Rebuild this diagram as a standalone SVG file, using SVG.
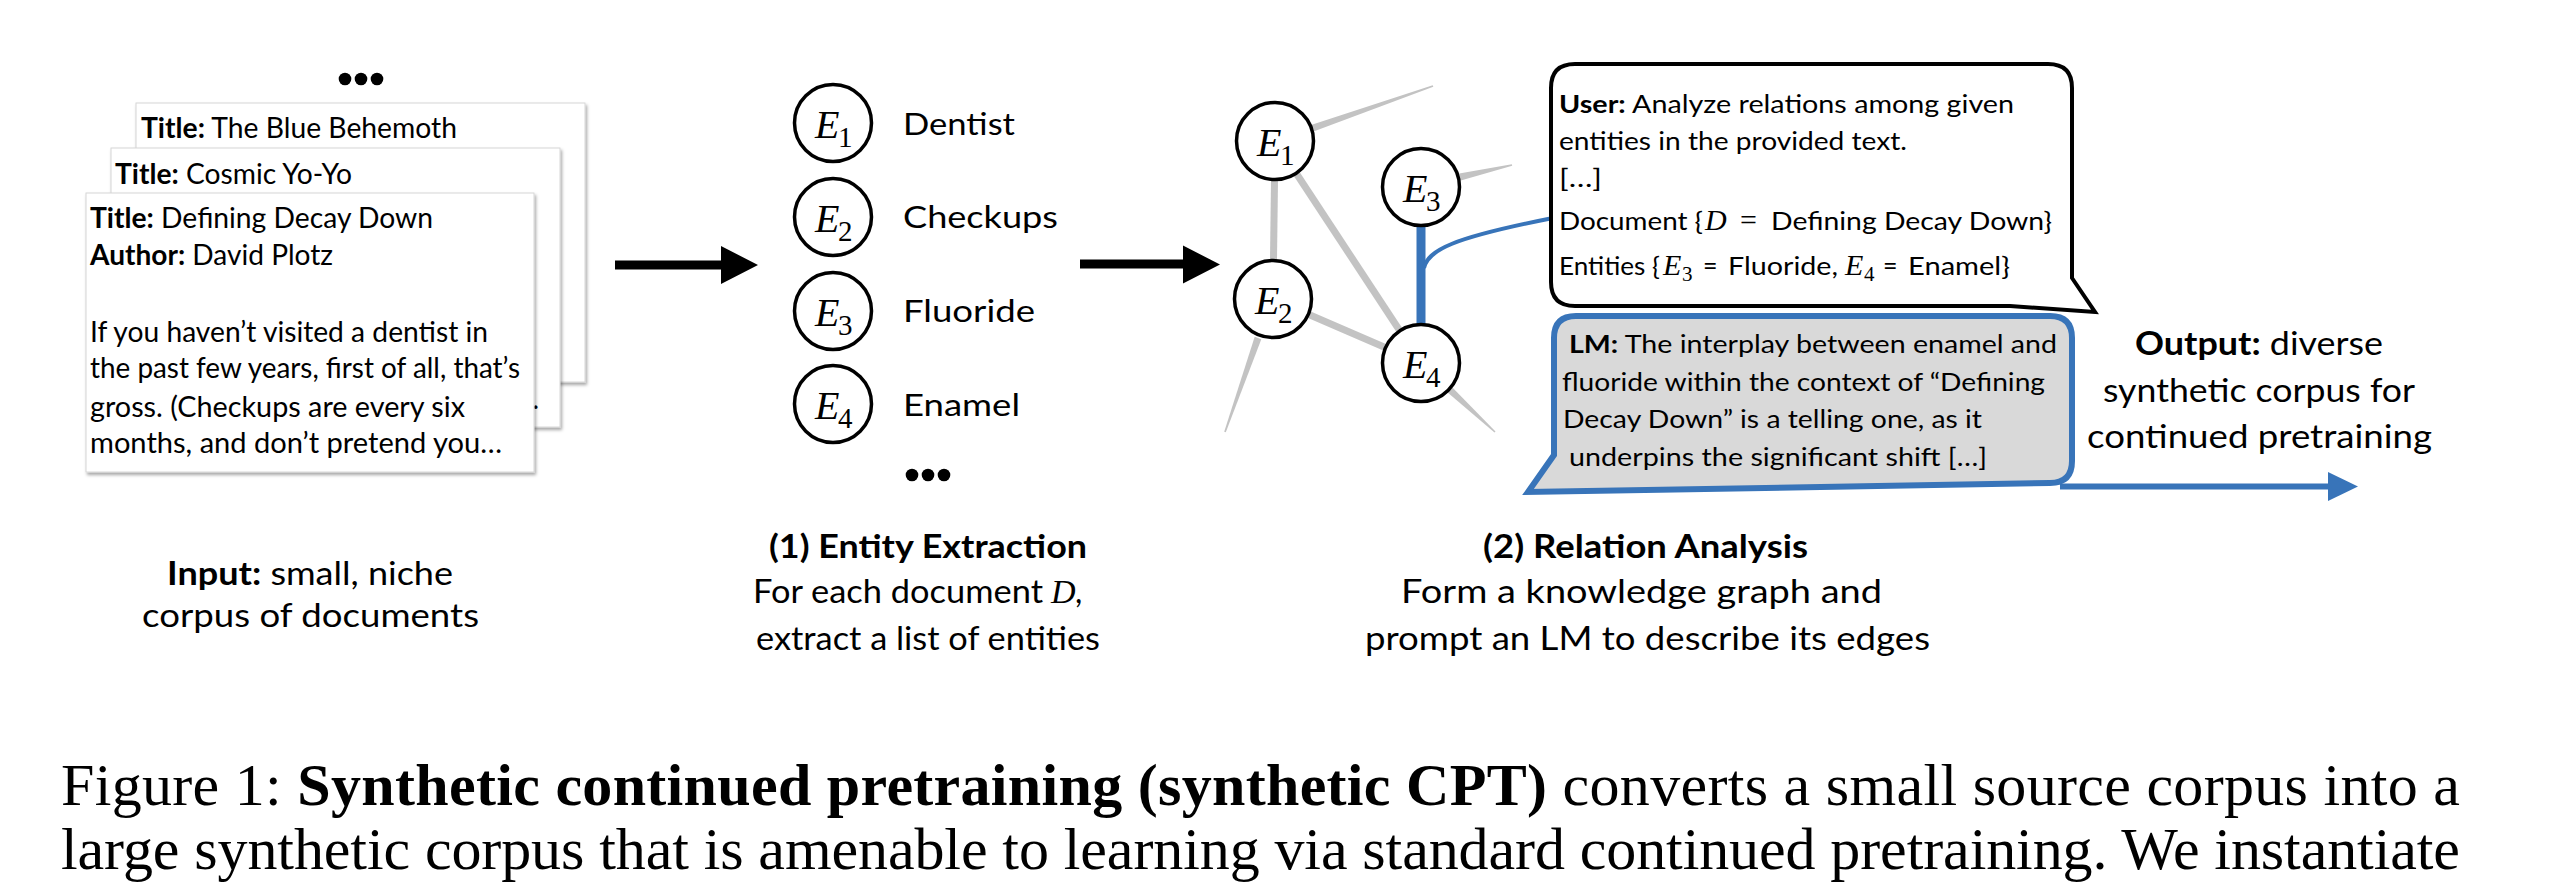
<svg xmlns="http://www.w3.org/2000/svg" width="2572" height="892" viewBox="0 0 2572 892">
<style>
text{font-family:Lato,"Open Sans","Liberation Sans",sans-serif;fill:#000}
.b{font-weight:700}
.m{font-family:"Liberation Serif","Times New Roman",serif;font-style:italic}
.s{font-family:"Liberation Serif","Times New Roman",serif}
.card{fill:#fff;stroke:#d6d6d6;stroke-width:1;filter:url(#sh)}
.node{fill:#fff;stroke:#000;stroke-width:3.5}
.edge{stroke:#c3c3c3;stroke-width:7;fill:none;stroke-linecap:butt}
.taper{fill:#c3c3c3}
.doc{font-size:28px}
.ent{font-size:30px}
.chat{font-size:25px}
.lm{font-size:25px}
.lab{font-size:32px}
.cap{font-family:"Liberation Serif","Times New Roman",serif;font-size:60px}
</style>
<defs>
<filter id="sh" x="-5%" y="-5%" width="115%" height="115%">
<feDropShadow dx="1.5" dy="2.5" stdDeviation="1.5" flood-color="#000" flood-opacity="0.35"/>
</filter>
</defs>

<g id="documents">
<g fill="#000"><circle cx="345" cy="79" r="6.3"/><circle cx="361" cy="79" r="6.3"/><circle cx="377" cy="79" r="6.3"/></g>
<g id="doc-back">
<rect class="card" x="136" y="103" width="449" height="279"/>
<text class="doc" x="141" y="138" textLength="316" lengthAdjust="spacingAndGlyphs"><tspan class="b">Title:</tspan> The Blue Behemoth</text>
</g>
<g id="doc-middle">
<rect class="card" x="111" y="148" width="449" height="279"/>
<text class="doc" x="115" y="184" textLength="237" lengthAdjust="spacingAndGlyphs"><tspan class="b">Title:</tspan> Cosmic Yo-Yo</text>
<text class="doc" x="518" y="409">…</text>
</g>
<g id="doc-front">
<rect class="card" x="86" y="193" width="448" height="279"/>
<text class="doc" x="90" y="228" textLength="343" lengthAdjust="spacingAndGlyphs"><tspan class="b">Title:</tspan> Defining Decay Down</text>
<text class="doc" x="90" y="265" textLength="243" lengthAdjust="spacingAndGlyphs"><tspan class="b">Author:</tspan> David Plotz</text>
<text class="doc" x="90" y="342" textLength="398" lengthAdjust="spacingAndGlyphs">If you haven’t visited a dentist in</text>
<text class="doc" x="90" y="378" textLength="430" lengthAdjust="spacingAndGlyphs">the past few years, first of all, that’s</text>
<text class="doc" x="90" y="417" textLength="375" lengthAdjust="spacingAndGlyphs">gross. (Checkups are every six</text>
<text class="doc" x="90" y="453" textLength="412" lengthAdjust="spacingAndGlyphs">months, and don’t pretend you…</text>
</g>
</g>

<g id="connectors">
<path d="M615,260.5 H721 V246 L758,265 L721,284 V269.5 H615 Z" fill="#000"/>
<path d="M1080,259.5 H1183 V245.5 L1220,264.5 L1183,283.5 V268.5 H1080 Z" fill="#000"/>
<g id="graph-edges">
<line class="edge" x1="1275" y1="141" x2="1273" y2="299"/>
<line class="edge" x1="1275" y1="141" x2="1421" y2="363"/>
<line class="edge" x1="1273" y1="299" x2="1421" y2="363"/>
<polygon class="taper" points="1314.2,131.3 1433.3,86.8 1432.7,85.2 1311.8,124.7"/>
<polygon class="taper" points="1261.3,339.2 1225.8,432.3 1224.2,431.7 1254.7,336.8"/>
<polygon class="taper" points="1460.8,180.4 1512.2,165.8 1511.8,164.2 1459.2,173.6"/>
<polygon class="taper" points="1447.6,392.6 1494.5,432.6 1495.5,431.4 1452.4,387.4"/>
<line x1="1421" y1="187" x2="1421" y2="363" stroke="#3874b9" stroke-width="9"/>
<path d="M1424,268 C1428,250 1452,238 1553,218" fill="none" stroke="#3874b9" stroke-width="4"/>
</g>
<g id="output-arrow">
<line x1="2060" y1="486.5" x2="2332" y2="486.5" stroke="#3874b9" stroke-width="6"/>
<polygon points="2328,472 2358,486.5 2328,501" fill="#3874b9"/>
</g>
</g>

<g id="entity-list">
<g id="list-E1"><circle class="node" cx="833" cy="123" r="38.5"/><text><tspan class="m" x="815" y="138" font-size="40">E</tspan><tspan class="s" x="838" y="147" font-size="29">1</tspan></text><text class="ent" x="903" y="135" textLength="112" lengthAdjust="spacingAndGlyphs">Dentist</text></g>
<g id="list-E2"><circle class="node" cx="833" cy="217" r="38.5"/><text><tspan class="m" x="815" y="232" font-size="40">E</tspan><tspan class="s" x="838" y="241" font-size="29">2</tspan></text><text class="ent" x="903" y="228" textLength="155" lengthAdjust="spacingAndGlyphs">Checkups</text></g>
<g id="list-E3"><circle class="node" cx="833" cy="311" r="38.5"/><text><tspan class="m" x="815" y="326" font-size="40">E</tspan><tspan class="s" x="838" y="335" font-size="29">3</tspan></text><text class="ent" x="903" y="322" textLength="132" lengthAdjust="spacingAndGlyphs">Fluoride</text></g>
<g id="list-E4"><circle class="node" cx="833" cy="404" r="38.5"/><text><tspan class="m" x="815" y="419" font-size="40">E</tspan><tspan class="s" x="838" y="428" font-size="29">4</tspan></text><text class="ent" x="903" y="416" textLength="117" lengthAdjust="spacingAndGlyphs">Enamel</text></g>
<g fill="#000"><circle cx="912" cy="475" r="6.3"/><circle cx="928" cy="475" r="6.3"/><circle cx="944" cy="475" r="6.3"/></g>
</g>

<g id="graph-nodes">
<g id="node-E1"><circle class="node" cx="1275" cy="141" r="38.5"/><text><tspan class="m" x="1257" y="156" font-size="40">E</tspan><tspan class="s" x="1280" y="165" font-size="29">1</tspan></text></g>
<g id="node-E2"><circle class="node" cx="1273" cy="299" r="38.5"/><text><tspan class="m" x="1255" y="314" font-size="40">E</tspan><tspan class="s" x="1278" y="323" font-size="29">2</tspan></text></g>
<g id="node-E3"><circle class="node" cx="1421" cy="187" r="38.5"/><text><tspan class="m" x="1403" y="202" font-size="40">E</tspan><tspan class="s" x="1426" y="211" font-size="29">3</tspan></text></g>
<g id="node-E4"><circle class="node" cx="1421" cy="363" r="38.5"/><text><tspan class="m" x="1403" y="378" font-size="40">E</tspan><tspan class="s" x="1426" y="387" font-size="29">4</tspan></text></g>
</g>

<g id="user-bubble">
<path d="M1575,64 H2048 Q2072,64 2072,88 V278 L2095,312 L2010,306 H1575 Q1551,306 1551,282 V88 Q1551,64 1575,64 Z" fill="#fff" stroke="#000" stroke-width="4" stroke-linejoin="miter"/>
<text class="chat" x="1559" y="113" textLength="455" lengthAdjust="spacingAndGlyphs"><tspan class="b">User:</tspan> Analyze relations among given</text>
<text class="chat" x="1559" y="150" textLength="348" lengthAdjust="spacingAndGlyphs">entities in the provided text.</text>
<text class="chat" x="1559" y="187" textLength="43" lengthAdjust="spacingAndGlyphs">[…]</text>
<text class="chat" x="1559" y="230" textLength="144" lengthAdjust="spacingAndGlyphs">Document {</text>
<text class="m" x="1705" y="230" font-size="30">D</text>
<text class="s" x="1740" y="230" font-size="30">=</text>
<text class="chat" x="1771" y="230" textLength="281" lengthAdjust="spacingAndGlyphs">Defining Decay Down}</text>
<text class="chat" x="1559" y="275" textLength="101" lengthAdjust="spacingAndGlyphs">Entities {</text>
<text><tspan class="m" x="1663" y="275" font-size="30">E</tspan><tspan class="s" x="1682" y="281" font-size="21">3</tspan></text>
<text class="chat" x="1703" y="275">=</text>
<text class="chat" x="1728" y="275" textLength="110" lengthAdjust="spacingAndGlyphs">Fluoride,</text>
<text><tspan class="m" x="1845" y="275" font-size="30">E</tspan><tspan class="s" x="1864" y="281" font-size="21">4</tspan></text>
<text class="chat" x="1883" y="275">=</text>
<text class="chat" x="1908" y="275" textLength="102" lengthAdjust="spacingAndGlyphs">Enamel}</text>
</g>

<g id="lm-bubble">
<path d="M1576,316 H2050 Q2072,316 2072,338 V461 Q2072,483 2050,483 L1528,492 L1554,455 V338 Q1554,316 1576,316 Z" fill="#d9d9d9" stroke="#3874b9" stroke-width="6" stroke-linejoin="miter"/>
<text class="lm" x="1569" y="353" textLength="488" lengthAdjust="spacingAndGlyphs"><tspan class="b">LM:</tspan> The interplay between enamel and</text>
<text class="lm" x="1562" y="391" textLength="483" lengthAdjust="spacingAndGlyphs">fluoride within the context of “Defining</text>
<text class="lm" x="1563" y="428" textLength="419" lengthAdjust="spacingAndGlyphs">Decay Down” is a telling one, as it</text>
<text class="lm" x="1569" y="466" textLength="418" lengthAdjust="spacingAndGlyphs">underpins the significant shift […]</text>
</g>

<g id="output-label">
<text class="lab" x="2135" y="355" textLength="248" lengthAdjust="spacingAndGlyphs"><tspan class="b">Output:</tspan> diverse</text>
<text class="lab" x="2103" y="402" textLength="312" lengthAdjust="spacingAndGlyphs">synthetic corpus for</text>
<text class="lab" x="2087" y="448" textLength="345" lengthAdjust="spacingAndGlyphs">continued pretraining</text>
</g>

<g id="input-label">
<text class="lab" x="167" y="585" textLength="286" lengthAdjust="spacingAndGlyphs"><tspan class="b">Input:</tspan> small, niche</text>
<text class="lab" x="142" y="627" textLength="337" lengthAdjust="spacingAndGlyphs">corpus of documents</text>
</g>

<g id="step1-label">
<text class="lab b" x="769" y="558" textLength="318" lengthAdjust="spacingAndGlyphs">(1) Entity Extraction</text>
<text class="lab" x="753" y="603" textLength="290" lengthAdjust="spacingAndGlyphs">For each document</text>
<text class="m" x="1051" y="603" font-size="34">D</text>
<text class="lab" x="1075" y="603">,</text>
<text class="lab" x="756" y="650" textLength="344" lengthAdjust="spacingAndGlyphs">extract a list of entities</text>
</g>

<g id="step2-label">
<text class="lab b" x="1483" y="558" textLength="325" lengthAdjust="spacingAndGlyphs">(2) Relation Analysis</text>
<text class="lab" x="1401" y="603" textLength="481" lengthAdjust="spacingAndGlyphs">Form a knowledge graph and</text>
<text class="lab" x="1365" y="650" textLength="565" lengthAdjust="spacingAndGlyphs">prompt an LM to describe its edges</text>
</g>

<g id="caption">
<text class="cap" x="61" y="805" textLength="2399" lengthAdjust="spacing">Figure 1: <tspan font-weight="700">Synthetic continued pretraining (synthetic CPT)</tspan> converts a small source corpus into a</text>
<text class="cap" x="61" y="869" textLength="2399" lengthAdjust="spacing">large synthetic corpus that is amenable to learning via standard continued pretraining. We instantiate</text>
</g>
</svg>
